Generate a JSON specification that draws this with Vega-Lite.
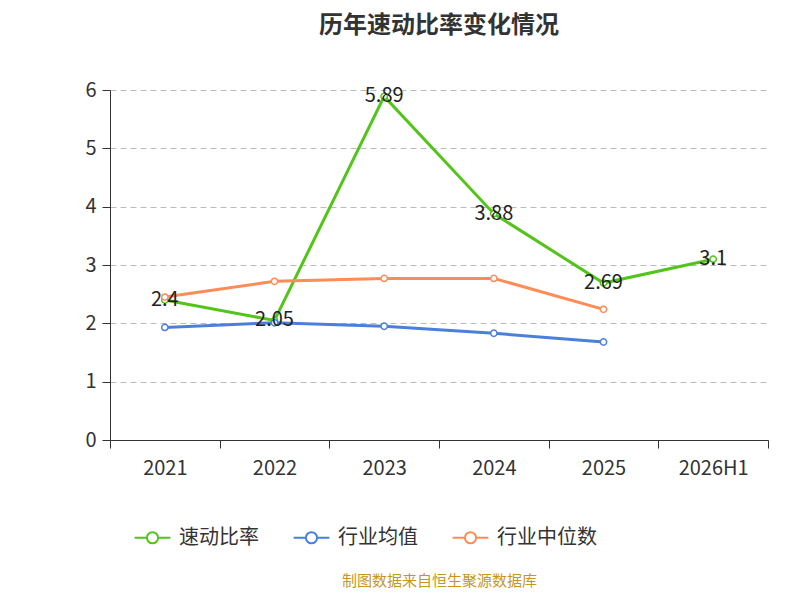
{
  "$schema": "https://vega.github.io/schema/vega-lite/v6.json",
  "width": 658,
  "height": 350,
  "autosize": "none",
  "padding": {"left": 110, "top": 90, "right": 32, "bottom": 160},
  "title": {"text": "历年速动比率变化情况", "fontSize": 24, "font": "Noto Sans CJK SC", "fontWeight": "bold", "color": "#333333", "offset": 42, "anchor": "middle"},
  "config": {"font": "Noto Sans CJK SC", "view": {"stroke": null}},
  "data": {
    "values": [
      {"year": "2021", "series": "速动比率", "v": 2.4},
      {"year": "2022", "series": "速动比率", "v": 2.05},
      {"year": "2023", "series": "速动比率", "v": 5.89},
      {"year": "2024", "series": "速动比率", "v": 3.88},
      {"year": "2025", "series": "速动比率", "v": 2.69},
      {"year": "2026H1", "series": "速动比率", "v": 3.1},
      {"year": "2021", "series": "行业均值", "v": 1.93},
      {"year": "2022", "series": "行业均值", "v": 2.01},
      {"year": "2023", "series": "行业均值", "v": 1.95},
      {"year": "2024", "series": "行业均值", "v": 1.83},
      {"year": "2025", "series": "行业均值", "v": 1.68},
      {"year": "2021", "series": "行业中位数", "v": 2.45},
      {"year": "2022", "series": "行业中位数", "v": 2.72},
      {"year": "2023", "series": "行业中位数", "v": 2.77},
      {"year": "2024", "series": "行业中位数", "v": 2.77},
      {"year": "2025", "series": "行业中位数", "v": 2.24}
    ]
  },
  "encoding": {
    "x": {
      "field": "year", "type": "ordinal",
      "scale": {"paddingInner": 0, "paddingOuter": 0},
      "axis": {"labelAngle": 0, "labelFontSize": 20, "labelColor": "#333333", "labelPadding": 10, "tickBand": "extent", "tickSize": 8, "domainColor": "#333333", "tickColor": "#333333",
        "title": "制图数据来自恒生聚源数据库", "titleColor": "#c8961e", "titleFontSize": 15, "titleFontWeight": "normal", "titlePadding": 95}
    },
    "y": {
      "field": "v", "type": "quantitative",
      "scale": {"domain": [0, 6]},
      "axis": {"title": null, "tickCount": 6, "labelFontSize": 20, "labelColor": "#333333", "gridDash": [6, 4], "gridColor": "#bbbbbb", "domain": true, "domainColor": "#333333", "tickColor": "#333333", "tickSize": 8, "labelPadding": 6}
    },
    "color": {
      "field": "series", "type": "nominal",
      "scale": {"domain": ["速动比率", "行业均值", "行业中位数"], "range": ["#52c41a", "#4a7fdc", "#ff8c55"]},
      "legend": {"orient": "none", "legendX": 30, "legendY": 435, "direction": "horizontal", "title": null, "labelFontSize": 20, "labelColor": "#333333", "symbolType": "M-1.6,0L-0.55,0M0.55,0L1.6,0M0.5,0A0.5,0.5 0 1 1 -0.5,0A0.5,0.5 0 1 1 0.5,0", "symbolSize": 500, "symbolStrokeWidth": 2, "symbolFillColor": "white", "columnPadding": 30, "labelOffset": 14}
    }
  },
  "layer": [
    {"mark": {"type": "line", "strokeWidth": 3}},
    {"mark": {"type": "point", "filled": false, "fill": "white", "fillOpacity": 1, "size": 40, "strokeWidth": 1.5, "opacity": 1}},
    {
      "transform": [{"filter": "datum.series === '速动比率'"}],
      "mark": {"type": "text", "fontSize": 20, "color": "#222222"},
      "encoding": {"text": {"field": "v"}, "color": {"value": "#222222"}}
    }
  ]
}
